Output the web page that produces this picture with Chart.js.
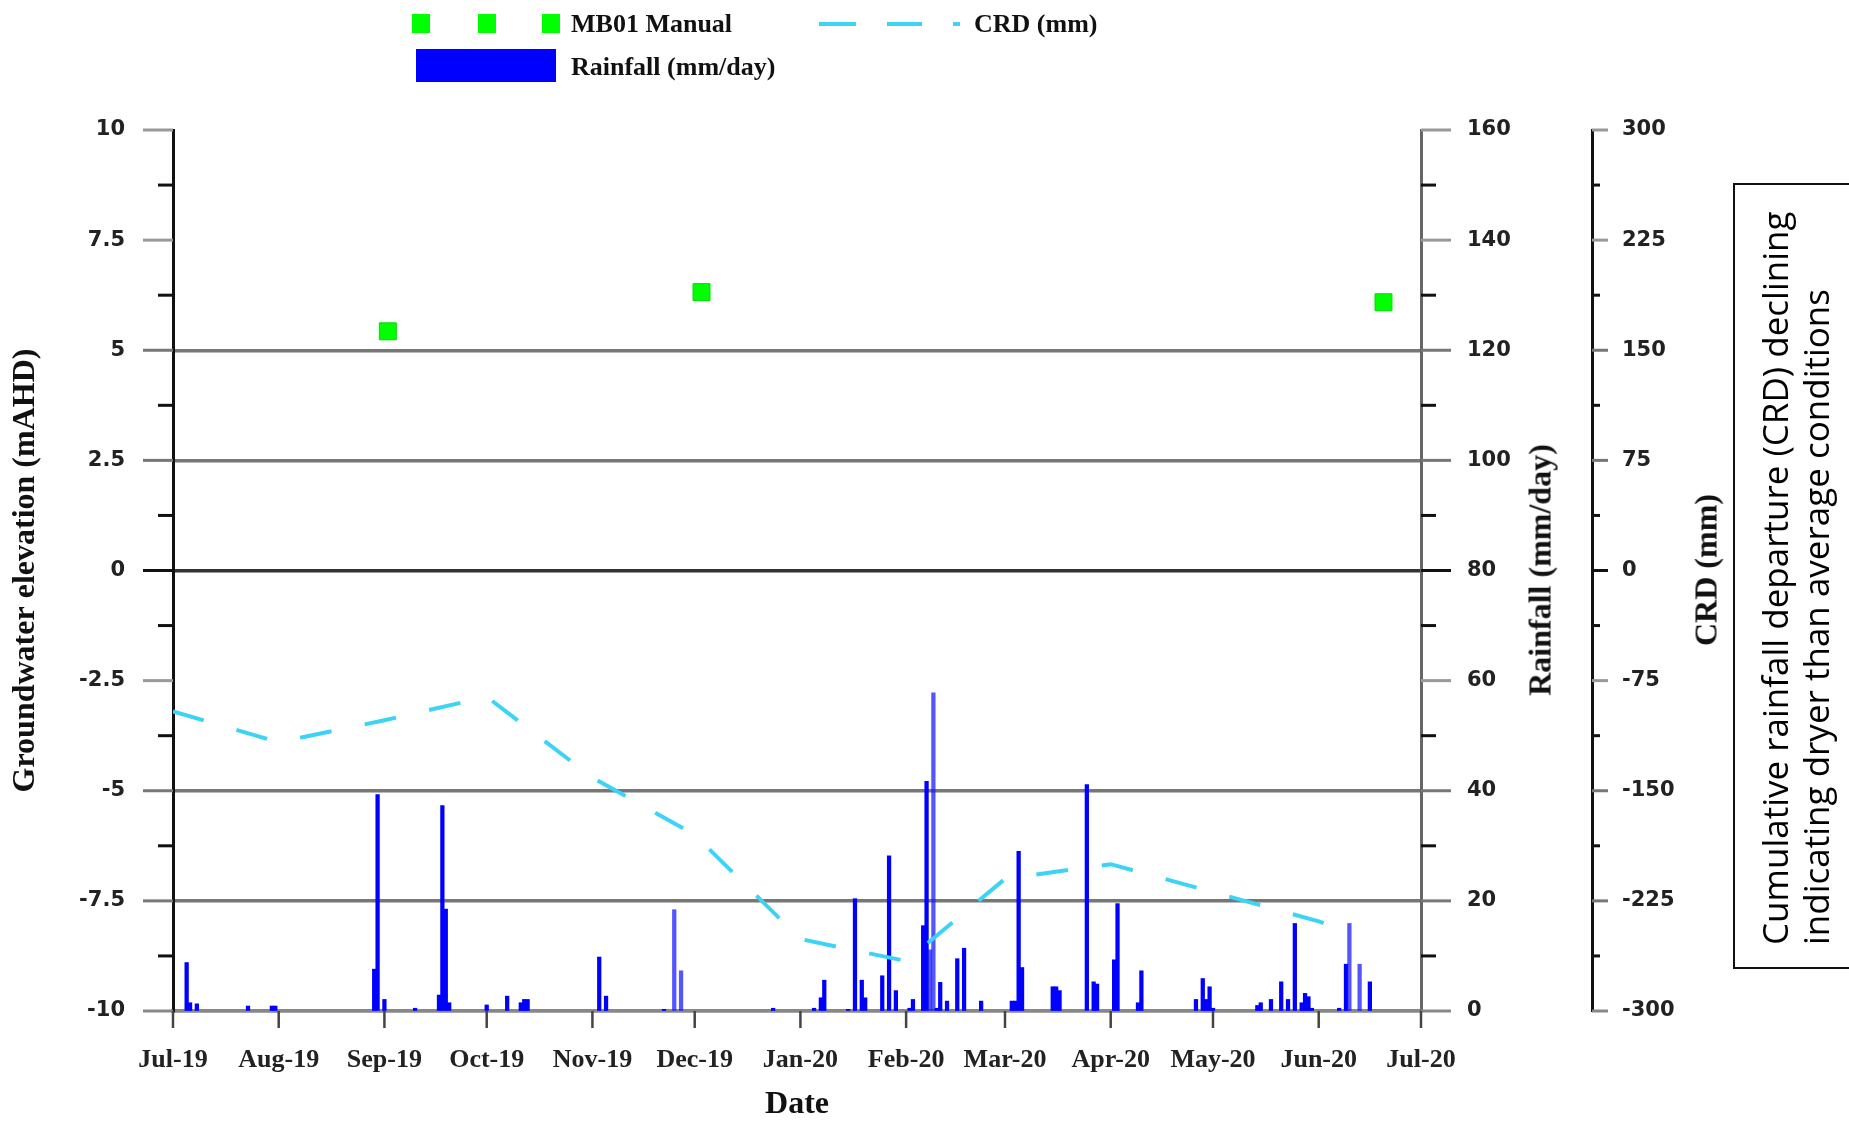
<!DOCTYPE html>
<html lang="en">
<head>
    <meta charset="UTF-8">
    <title>Groundwater, rainfall and CRD</title>
    <style>
        body {
            margin: 0;
            background: #fff;
            overflow: hidden;
        }

        #wrap {
            position: relative;
            width: 1849px;
            height: 1121px;
            overflow: hidden;
            background: #fff;
        }

        #chart {
            position: absolute;
            left: 0;
            top: 0;
        }

        .lg {
            position: absolute;
            font-family: "Liberation Serif", serif;
            font-weight: bold;
            font-size: 26px;
            color: #111;
            white-space: nowrap;
            line-height: 1;
        }

        .sq {
            position: absolute;
            width: 18px;
            height: 19px;
            background: #00ff00;
        }

        .dash {
            position: absolute;
            height: 4px;
            background: #3dd3f5;
        }

        .ytitle {
            position: absolute;
            font-family: "Liberation Serif", serif;
            font-weight: bold;
            font-size: 32px;
            color: #111;
            white-space: nowrap;
            transform: translate(-50%, -50%) rotate(-90deg);
        }

        #note {
            position: absolute;
            left: 1733px;
            top: 183px;
            width: 160px;
            height: 782px;
            border: 2px solid #111;
        }

        #note div {
            position: absolute;
            left: 19px;
            top: 760px;
            width: 760px;
            transform-origin: 0 0;
            transform: rotate(-90deg);
            font-family: "Open Sans", sans-serif;
            font-size: 35px;
            line-height: 41px;
            color: #000;
            white-space: nowrap;
        }
    </style>
    <script src="https://cdn.jsdelivr.net/npm/chart.js"></script>
</head>
<body>
<div id="wrap">
    <canvas id="chart" width="1849" height="1121"></canvas>

    <!-- legend -->
    <div class="sq" style="left:412px; top:14px;"></div>
    <div class="sq" style="left:478px; top:14px;"></div>
    <div class="sq" style="left:542px; top:14px;"></div>
    <div class="lg" style="left:571px; top:11px;">MB01 Manual</div>
    <div class="dash" style="left:819px; top:22px; width:37px;"></div>
    <div class="dash" style="left:887px; top:22px; width:35px;"></div>
    <div class="dash" style="left:953px; top:22px; width:7px;"></div>
    <div class="lg" style="left:974px; top:11px;">CRD (mm)</div>
    <div style="position:absolute; left:416px; top:49px; width:140px; height:33px; background:#0000ff;"></div>
    <div class="lg" style="left:571px; top:54px;">Rainfall (mm/day)</div>

    <div class="ytitle" style="left:1540px; top:570px;">Rainfall (mm/day)</div>
    <div class="ytitle" style="left:1706px; top:570px;">CRD (mm)</div>

    <div id="note">
        <div>Cumulative rainfall departure (CRD) declining<br>indicating dryer than average conditions</div>
    </div>
</div>

<script>
    // days counted from 1 Jul 2019
    const monthStarts = [0, 31, 62, 92, 123, 153, 184, 215, 244, 275, 305, 336, 366];
    const monthLabels = ['Jul-19', 'Aug-19', 'Sep-19', 'Oct-19', 'Nov-19', 'Dec-19',
        'Jan-20', 'Feb-20', 'Mar-20', 'Apr-20', 'May-20', 'Jun-20', 'Jul-20'];

    const manualDays = [63, 155, 355];
    const manualLevel = [5.43, 6.32, 6.09];

    const crdDays = [0, 31, 62, 92, 123, 153, 184, 215, 244, 275, 305, 336, 341];
    const crdValues = [-96, -117, -102, -86, -141, -180, -251, -266, -210, -200, -219, -239, -243];

    const rainDays = [4, 5, 7, 22, 29, 30, 59, 60, 62, 71, 78, 79, 80, 81, 92, 98, 102, 103, 104,
        125, 127, 144, 147, 149, 176, 188, 190, 191, 198, 200, 202, 203, 208, 210, 212, 216, 217,
        220, 221, 222, 223, 224, 225, 227, 230, 232, 237, 246, 247, 248, 249, 258, 259, 260,
        268, 270, 271, 276, 277, 283, 284, 300, 302, 303, 304, 305, 318, 319, 322, 325, 327,
        329, 331, 332, 333, 334, 342, 344, 345, 348, 351];
    const rainValues = [8.8, 1.5, 1.3, 0.9, 0.9, 0.9, 7.6, 39.3, 2.1, 0.5, 2.9, 37.3, 18.5, 1.5, 1.1, 2.7, 1.5, 2.1, 2.1,
        9.8, 2.7, 0.3, 18.4, 7.3, 0.5, 0.5, 2.4, 5.6, 0.3, 20.4, 5.6, 2.4, 6.4, 28.2, 3.7, 0.5, 2.1,
        15.5, 41.7, 11.1, 57.8, 0.5, 5.2, 1.8, 9.5, 11.4, 1.8, 1.8, 1.8, 29.0, 7.9, 4.4, 4.4, 3.7,
        41.1, 5.3, 4.9, 9.3, 19.5, 1.5, 7.3, 2.1, 5.9, 2.1, 4.4, 0.5, 1.0, 1.5, 2.1, 5.3, 2.1,
        15.9, 1.5, 3.2, 2.6, 0.5, 0.5, 8.5, 15.9, 8.5, 5.3];

    // bars that look a bit paler in the original
    const paleRainDays = [147, 149, 222, 223, 345, 348];

    // which of the 9 major levels (bottom = 0) carry a horizontal line
    const gridColour = function (k) {
        if (k === 4) return '#333';
        if (k === 1 || k === 2 || k === 5 || k === 6) return '#777';
        if (k === 0) return '#888';
        return null;
    };

    // small outward tick marks, major + minor, like the original axes
    const tickMarks = {
        id: 'tickMarks',
        afterDraw(chart) {
            const ctx = chart.ctx;
            const specs = [
                {id: 'y', dir: -1, major: 30, minor: 15, step: 2.5},
                {id: 'rain', dir: 1, major: 30, minor: 15, step: 20},
                {id: 'crd', dir: 1, major: 16, minor: 8, step: 75}
            ];
            ctx.save();
            ctx.lineWidth = 3;
            specs.forEach(function (s) {
                const sc = chart.scales[s.id];
                const x0 = s.dir < 0 ? sc.right : sc.left;
                for (let i = 0; i <= 16; i++) {
                    const v = sc.min + i * s.step / 2;
                    const y = sc.getPixelForValue(v);
                    const isMajor = i % 2 === 0;
                    const len = isMajor ? s.major : s.minor;
                    ctx.strokeStyle = isMajor ? (gridColour(i / 2) || '#999') : '#111';
                    if (isMajor && i / 2 === 4) ctx.strokeStyle = '#111';
                    ctx.beginPath();
                    ctx.moveTo(x0, y);
                    ctx.lineTo(x0 + s.dir * len, y);
                    ctx.stroke();
                }
            });
            const xs = chart.scales.x;
            ctx.strokeStyle = '#444';
            ctx.lineWidth = 2.5;
            monthStarts.forEach(function (d) {
                const x = xs.getPixelForValue(d);
                ctx.beginPath();
                ctx.moveTo(x, xs.top);
                ctx.lineTo(x, xs.top + 17);
                ctx.stroke();
            });
            ctx.restore();
        }
    };

    const tickFont = {family: 'DejaVu Sans', weight: 'bold', size: 21};
    const titleFont = {family: 'Liberation Serif', weight: 'bold', size: 32, lineHeight: 1};

    new Chart(document.getElementById('chart'), {
        type: 'bar',
        data: {
            datasets: [
                {
                    type: 'line',
                    label: 'MB01 Manual',
                    data: manualDays.map((d, i) => ({x: d, y: manualLevel[i]})),
                    yAxisID: 'y',
                    showLine: false,
                    pointStyle: 'rect',
                    pointRadius: 12,
                    backgroundColor: '#00ff00',
                    borderColor: '#00dd00',
                    borderWidth: 1,
                    order: 0
                },
                {
                    type: 'line',
                    label: 'CRD (mm)',
                    data: crdDays.map((d, i) => ({x: d, y: crdValues[i]})),
                    yAxisID: 'crd',
                    borderColor: '#3dd3f5',
                    borderWidth: 4,
                    borderDash: [32, 34],
                    pointRadius: 0,
                    tension: 0,
                    order: 1
                },
                {
                    type: 'bar',
                    label: 'Rainfall (mm/day)',
                    data: rainDays.map((d, i) => ({x: d, y: rainValues[i]})),
                    yAxisID: 'rain',
                    backgroundColor: function (c) {
                        const raw = c.raw;
                        return raw && paleRainDays.indexOf(raw.x) >= 0 ? 'rgba(20,20,255,0.72)' : '#0000ff';
                    },
                    borderWidth: 0,
                    barThickness: 3.6,
                    order: 2
                }
            ]
        },
        options: {
            responsive: false,
            animation: false,
            layout: {padding: {top: 130, left: 0, right: 0, bottom: 0}},
            plugins: {
                legend: {display: false},
                tooltip: {enabled: false}
            },
            scales: {
                x: {
                    type: 'linear',
                    min: 0,
                    max: 366,
                    offset: false,
                    afterBuildTicks: function (axis) {
                        axis.ticks = monthStarts.map(v => ({value: v}));
                    },
                    afterFit: function (axis) {
                        axis.height = 110;
                    },
                    ticks: {
                        autoSkip: false,
                        maxRotation: 0,
                        padding: 34,
                        color: '#222',
                        font: {family: 'Liberation Serif', weight: 'bold', size: 26},
                        callback: function (value, index) {
                            return monthLabels[index];
                        }
                    },
                    grid: {display: true, drawOnChartArea: false, drawTicks: false, offset: false},
                    border: {display: true, color: '#888', width: 3.5},
                    title: {
                        display: true,
                        text: 'Date',
                        color: '#111',
                        font: titleFont,
                        padding: {top: 0, bottom: 0}
                    }
                },
                y: {
                    position: 'left',
                    min: -10,
                    max: 10,
                    afterFit: function (axis) {
                        axis.width = 173;
                    },
                    ticks: {
                        stepSize: 2.5,
                        padding: 48,
                        color: '#222',
                        font: tickFont,
                        callback: v => String(v)
                    },
                    grid: {
                        drawTicks: false,
                        lineWidth: 3.5,
                        color: function (c) {
                            const k = Math.round((c.tick.value + 10) / 2.5);
                            return gridColour(k) || 'rgba(0,0,0,0)';
                        }
                    },
                    border: {display: true, color: '#111', width: 3},
                    title: {
                        display: true,
                        text: 'Groundwater elevation (mAHD)',
                        color: '#111',
                        font: titleFont,
                        padding: {top: 10, bottom: 0}
                    }
                },
                rain: {
                    position: 'right',
                    weight: 0,
                    min: 0,
                    max: 160,
                    afterFit: function (axis) {
                        axis.width = 171;
                    },
                    ticks: {
                        stepSize: 20,
                        padding: 46,
                        color: '#222',
                        font: tickFont
                    },
                    grid: {drawOnChartArea: false, drawTicks: false},
                    border: {display: true, color: '#666', width: 3}
                },
                crd: {
                    position: 'right',
                    weight: 1,
                    min: -300,
                    max: 300,
                    afterFit: function (axis) {
                        axis.width = 257;
                    },
                    ticks: {
                        stepSize: 75,
                        padding: 30,
                        color: '#222',
                        font: tickFont
                    },
                    grid: {drawOnChartArea: false, drawTicks: false},
                    border: {display: true, color: '#111', width: 3}
                }
            }
        },
        plugins: [tickMarks]
    });
</script>
</body>
</html>
